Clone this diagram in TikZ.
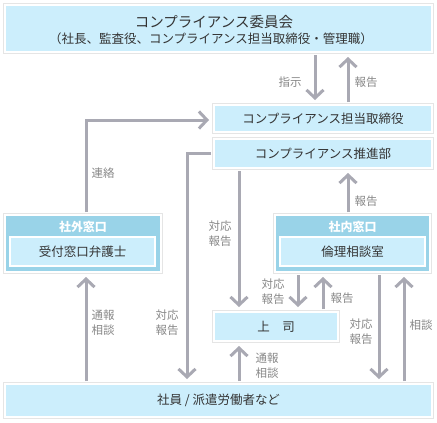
\documentclass[tikz,border=0pt]{standalone}
\usepackage{fontspec}
\setmainfont{Noto Sans CJK JP}
\newfontfamily\jp{Noto Sans CJK JP}
\usetikzlibrary{arrows.meta}
\definecolor{boxblue}{HTML}{CCEEFC}
\definecolor{headblue}{HTML}{99D3E8}
\definecolor{arrgray}{HTML}{A9A9B3}
\definecolor{txtdark}{HTML}{333333}
\definecolor{lblgray}{HTML}{888888}
\tikzset{
  box/.style={rectangle, fill=boxblue, draw=white, line width=2pt,
    preaction={draw=black!10, line width=4pt}, inner sep=0pt,
    text=txtdark, font=\jp\fontsize{12.5}{14}\selectfont, align=center},
  headbox/.style={box, fill=headblue},
  inbox/.style={rectangle, fill=boxblue, draw=white, line width=2pt, inner sep=0pt,
    text=txtdark, font=\jp\fontsize{12.5}{14}\selectfont},
  arr/.style={draw=arrgray, line width=3pt, -{Straight Barb[length=8pt,width=17pt]}, shorten >=4pt},
  lbl/.style={text=lblgray, font=\jp\fontsize{11.5}{15}\selectfont, align=center, inner sep=0pt},
  headtxt/.style={text=white, font=\jp\bfseries\fontsize{12}{14}\selectfont, inner sep=0pt}
}
\begin{document}
\begin{tikzpicture}[x=1pt,y=-1pt]
\useasboundingbox[fill=white] (0,0) rectangle (437,423);
% boxes
\node[box, minimum width=427pt, minimum height=47pt] (com) at (218.5,28.5) {};
\node[text=txtdark, font=\jp\fontsize{14.5}{16}\selectfont, inner sep=0pt] (comt) at (214,22) {コンプライアンス委員会};
\node[text=txtdark, font=\jp\fontsize{12.5}{14}\selectfont, inner sep=0pt] (coms) at (211,39) {（社長、監査役、コンプライアンス担当取締役・管理職）};
\node[box, minimum width=218pt, minimum height=27pt] (tan) at (323,118.5) {コンプライアンス担当取締役};
\node[box, minimum width=218pt, minimum height=29pt] (sui) at (323,153.5) {コンプライアンス推進部};
\node[headbox, minimum width=156pt, minimum height=57pt] (gai) at (83,243.5) {};
\node[headtxt] (gaih) at (83,227) {社外窓口};
\node[inbox, minimum width=145pt, minimum height=29pt] (gaii) at (82.5,251.5) {受付窓口弁護士};
\node[headbox, minimum width=155pt, minimum height=57pt] (nai) at (352.5,243.5) {};
\node[headtxt] (naih) at (352.5,227) {社内窓口};
\node[inbox, minimum width=145pt, minimum height=29pt] (naii) at (352.5,251.5) {倫理相談室};
\node[box, minimum width=124pt, minimum height=29pt] (jou) at (276,326.5) {上　司};
\node[box, minimum width=427pt, minimum height=33pt] (sha) at (218.5,400.5) {社員 / 派遣労働者など};
% column coordinates
\coordinate (xA) at (315,0);
\coordinate (xB) at (348,0);
\coordinate (xC) at (187,0);
\coordinate (xD) at (239,0);
\coordinate (xE) at (298,0);
\coordinate (xF) at (323,0);
\coordinate (xG) at (379,0);
\coordinate (xH) at (404,0);
\coordinate (xL) at (86,0);
\coordinate (yK) at (0,120);
% connectors
\draw[arr, shorten <=2pt] (com.south -| xA) -- (tan.north -| xA);
\draw[arr, shorten <=2pt] (tan.north -| xB) -- (com.south -| xB);
\draw[arr, shorten <=2pt] (gai.north -| xL) -- (xL |- yK) -- (tan.west |- yK);
\draw[arr, shorten <=2pt] (nai.north -| xB) -- (sui.south -| xB);
\draw[arr, shorten <=2pt] (sui.west) -| (sha.north -| xC);
\draw[arr, shorten <=2pt] (sui.south -| xD) -- (jou.north -| xD);
\draw[arr, shorten <=2pt] (nai.south -| xE) -- (jou.north -| xE);
\draw[arr, shorten <=2pt] (jou.north -| xF) -- (nai.south -| xF);
\draw[arr, shorten <=2pt] (sha.north -| xD) -- (jou.south -| xD);
\draw[arr, shorten <=2pt] (nai.south -| xG) -- (sha.north -| xG);
\draw[arr, shorten <=2pt] (sha.north -| xH) -- (nai.south -| xH);
\draw[arr, shorten <=2pt] (sha.north -| xL) -- (gai.south -| xL);
% labels
\node[lbl] (l1) at (290,82) {指示};
\node[lbl] (l2) at (366,82) {報告};
\node[lbl] (l3) at (103,173) {連絡};
\node[lbl] (l4) at (366,201) {報告};
\node[lbl] (l5) at (220,233.5) {対応\\報告};
\node[lbl] (l6) at (103,322.5) {通報\\相談};
\node[lbl] (l7) at (167,322.5) {対応\\報告};
\node[lbl] (l8) at (273,291.5) {対応\\報告};
\node[lbl] (l9) at (342,298) {報告};
\node[lbl] (l10) at (361,332) {対応\\報告};
\node[lbl] (l11) at (421,325) {相談};
\node[lbl] (l12) at (267,365.5) {通報\\相談};
\end{tikzpicture}
\end{document}
